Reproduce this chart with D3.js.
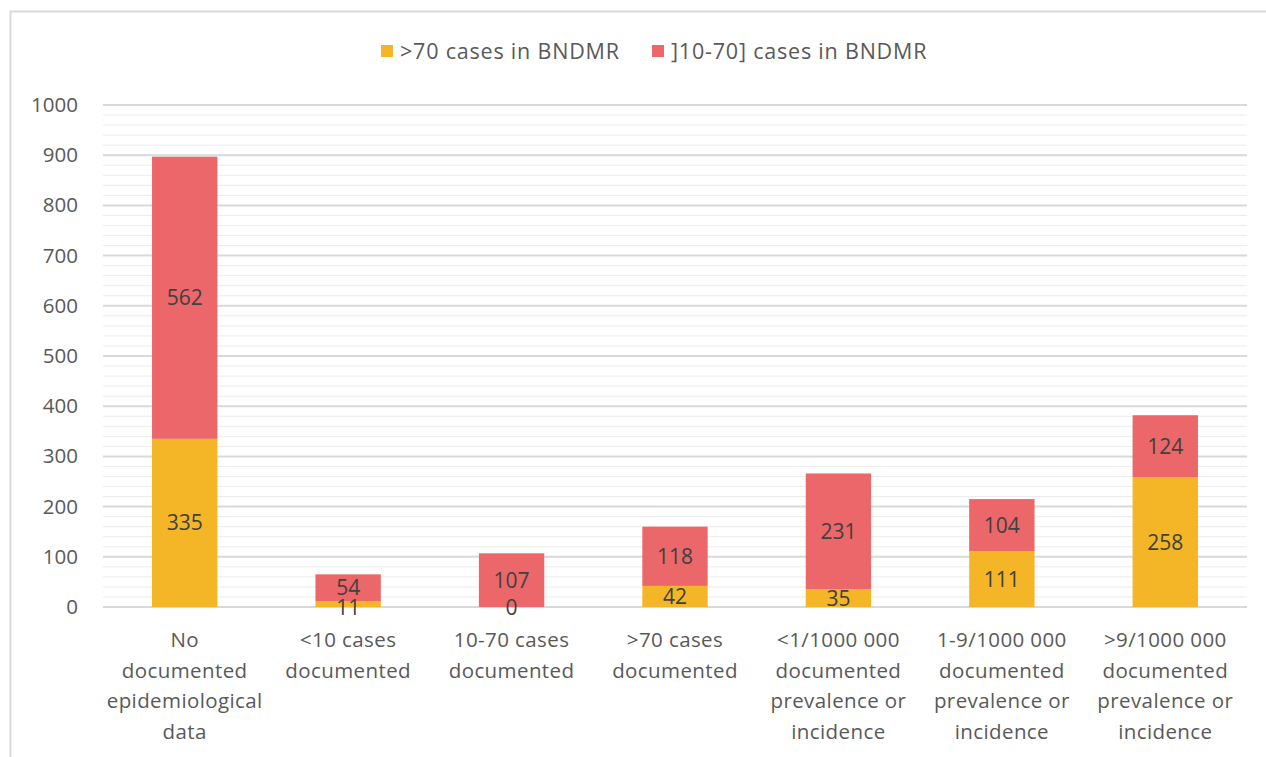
<!DOCTYPE html>
<html>
<head>
<meta charset="utf-8">
<script src="https://cdn.jsdelivr.net/npm/d3@7"></script>
<style>
  body { margin: 0; background: #fff; }
  svg { font-family: "Open Sans", Lato, sans-serif; }
</style>
</head>
<body>
<svg id="chart" width="1266" height="757"></svg>
<script>
const categories = [
    ['No', 'documented', 'epidemiological', 'data'],
    ['<10 cases', 'documented'],
    ['10-70 cases', 'documented'],
    ['>70 cases', 'documented'],
    ['<1/1000 000', 'documented', 'prevalence or', 'incidence'],
    ['1-9/1000 000', 'documented', 'prevalence or', 'incidence'],
    ['>9/1000 000', 'documented', 'prevalence or', 'incidence']
];
const over70 = [335, 11, 0, 42, 35, 111, 258];
const from10to70 = [562, 54, 107, 118, 231, 104, 124];
const seriesNames = ['>70 cases in BNDMR', ']10-70] cases in BNDMR'];
const seriesColors = ['#f4b626', '#ec6769'];
const yTicks = d3.range(0, 1001, 100);

const svg = d3.select('#chart');
const margin = { left: 103, right: 19, top: 105, bottom: 150 };
const width = 1266 - margin.left - margin.right;
const height = 757 - margin.top - margin.bottom;

// outer frame
svg.append('rect')
    .attr('x', 10.5).attr('y', 11.5)
    .attr('width', 1300).attr('height', 800)
    .style('fill', 'none')
    .style('stroke', '#d9d9d9')
    .style('stroke-width', 2);

const g = svg.append('g').attr('transform', `translate(${margin.left},${margin.top})`);

const keys = categories.map((c, i) => i);
const x = d3.scaleBand().domain(keys).range([0, width]).paddingInner(0.6).paddingOuter(0.3);
const y = d3.scaleLinear().domain([0, 1000]).range([height, 0]);

// minor gridlines
g.selectAll('line.minor')
    .data(d3.range(0, 1001, 20).filter(v => v % 100 !== 0))
    .enter().append('line')
    .attr('class', 'minor')
    .attr('x1', 0).attr('x2', width)
    .attr('y1', d => y(d)).attr('y2', d => y(d))
    .style('stroke', '#ececec').style('stroke-width', 1);

// major gridlines
g.selectAll('line.major')
    .data(yTicks)
    .enter().append('line')
    .attr('class', 'major')
    .attr('x1', 0).attr('x2', width)
    .attr('y1', d => y(d)).attr('y2', d => y(d))
    .style('stroke', '#d9d9d9').style('stroke-width', 2);

// y axis labels
const yAxis = g.append('g')
    .call(d3.axisLeft(y).tickValues(yTicks).tickFormat(d3.format('d')).tickSize(0).tickPadding(25));
yAxis.select('.domain').remove();
yAxis.selectAll('text')
    .style('font-size', '20.5px')
    .style('fill', '#595959')
    .style('font-family', '"Open Sans", Lato, sans-serif');

// stacked data
const rows = keys.map(i => ({ idx: i, a: over70[i], b: from10to70[i] }));
const stack = d3.stack().keys(['a', 'b'])(rows);

const layers = g.selectAll('g.layer')
    .data(stack)
    .enter().append('g')
    .attr('class', 'layer')
    .style('fill', (d, i) => seriesColors[i]);

layers.selectAll('rect')
    .data(d => d)
    .enter().append('rect')
    .attr('x', d => x(d.data.idx))
    .attr('width', x.bandwidth())
    .attr('y', d => y(d[1]))
    .attr('height', d => y(d[0]) - y(d[1]));

// value labels on top of all bars
const labelGroups = g.selectAll('g.labels')
    .data(stack)
    .enter().append('g')
    .attr('class', 'labels');

labelGroups.selectAll('text')
    .data(d => d)
    .enter().append('text')
    .attr('x', d => x(d.data.idx) + x.bandwidth() / 2)
    .attr('y', d => Math.max((y(d[0]) + y(d[1])) / 2, (d[1] - d[0]) < 20 && d[0] === 0 ? y(0) : 0))
    .attr('dy', '0.36em')
    .attr('text-anchor', 'middle')
    .style('font-size', '21px')
    .style('fill', '#404040')
    .text(d => d[1] - d[0]);

// category labels
const xLabels = g.selectAll('text.cat')
    .data(categories)
    .enter().append('text')
    .attr('class', 'cat')
    .attr('text-anchor', 'middle')
    .attr('transform', (d, i) => `translate(${x(i) + x.bandwidth() / 2},${height + 40})`)
    .style('font-size', '20.5px')
    .style('letter-spacing', '0.4px')
    .style('fill', '#595959');

xLabels.selectAll('tspan')
    .data(d => d)
    .enter().append('tspan')
    .attr('x', 0)
    .attr('y', (d, i) => i * 30.7)
    .text(d => d);

// legend
const legend = svg.append('g').attr('transform', 'translate(381,51)');
const legendX = [0, 271];
seriesNames.forEach((name, i) => {
    const item = legend.append('g').attr('transform', `translate(${legendX[i]},0)`);
    item.append('rect')
        .attr('x', 0).attr('y', -6)
        .attr('width', 12).attr('height', 12)
        .style('fill', seriesColors[i]);
    item.append('text')
        .attr('x', 19).attr('dy', '0.35em')
        .style('font-size', '21.5px')
        .style('letter-spacing', '0.8px')
        .style('fill', '#595959')
        .text(name);
});
</script>
</body>
</html>
